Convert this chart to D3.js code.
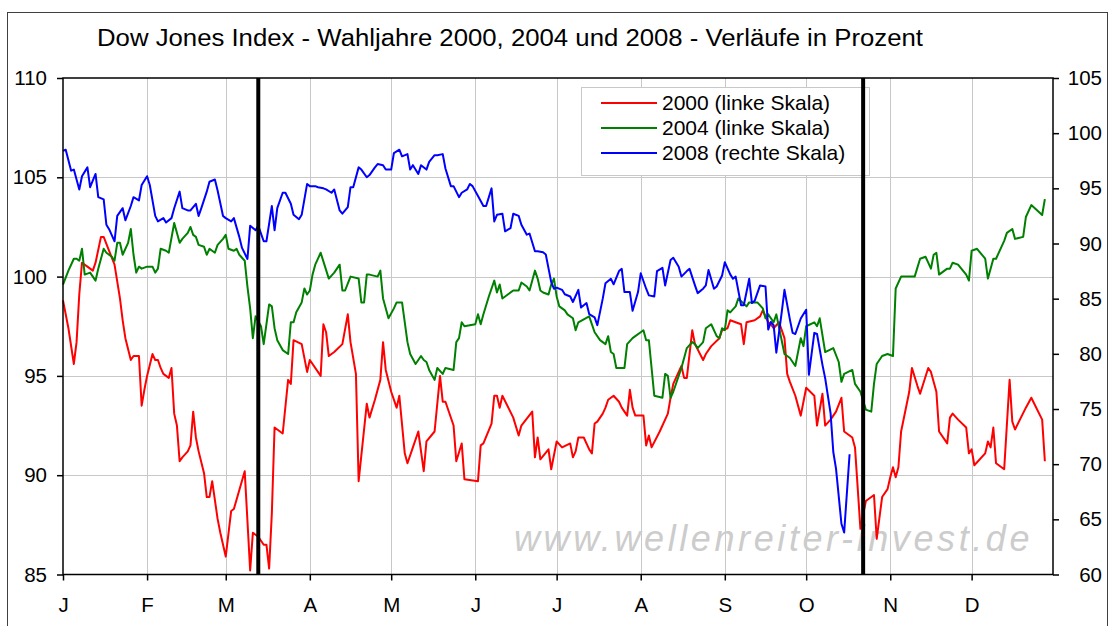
<!DOCTYPE html>
<html>
<head>
<meta charset="utf-8">
<script src="https://cdn.jsdelivr.net/npm/d3@7"></script>
<style>
  body { margin: 0; background: #fff; }
  svg { display: block; font-family: "Liberation Sans", Arial, sans-serif; }
</style>
</head>
<body>
<svg id="chart" width="1109" height="626"></svg>
<script>
// day of year (0 = 1 Jan) and index in percent
var days2000 = [0,2,4,5,6,7,9,11,12,14,
  15,17,19,21,22,23,25,26,28,29,
  30,31,33,34,35,36,37,39,40,41,
  42,43,44,46,47,48,49,50,52,53,
  54,55,57,58,60,62,63,67,69,70,
  72,74,75,76,77,78,81,83,84,85,
  88,90,91,95,96,97,98,100,103,105,
  106,108,109,112,113,115,117,118,119,121,
  123,124,126,127,129,131,133,134,137,139,
  140,141,144,145,147,148,153,154,155,158,
  159,160,161,162,166,168,169,173,174,175,
  176,179,180,182,184,187,188,189,190,192,
  194,195,196,197,199,200,201,203,205,206,
  208,209,210,211,214,215,216,217,220,223,
  224,225,228,229,230,232,233,236,237,239,
  242,243,245,246,250,251,252,255,257,258,
  260,261,262,264,266,267,268,270,272,274,
  277,278,280,281,283,285,287,288,290,291,
  292,294,296,299,300,302,304,305,306,307,
  308,309,312,313,315,316,319,320,322,323,
  326,327,328,330,333,334,335,336,340,341,
  342,343,344,347,349,350,351,355,357,361,
  362];
var vals2000 = [98.8,97.4,95.6,96.7,99.1,100.7,100.5,100.3,100.7,102.0,
  102.0,101.3,100.6,98.9,97.8,96.9,95.8,96.0,96.0,93.5,
  94.3,95.0,96.1,95.8,95.8,95.4,95.1,94.9,95.4,93.1,
  92.5,90.7,90.9,91.2,91.5,93.2,91.9,91.2,90.1,88.9,
  88.9,89.7,87.8,87.1,85.9,88.2,88.3,90.2,85.2,87.1,
  86.9,86.5,86.5,85.3,88.1,92.4,92.1,94.8,94.6,96.8,
  96.6,95.2,95.8,95.0,97.6,97.2,96.0,96.2,96.6,98.1,
  96.7,95.1,89.7,93.6,92.9,93.8,94.8,96.7,95.3,94.2,
  93.4,94.0,91.1,90.6,91.4,92.2,90.2,91.7,92.2,95.0,
  93.7,93.7,92.5,90.7,91.6,89.8,89.7,91.5,91.6,92.6,
  94.0,94.0,93.4,94.0,92.9,92.0,92.5,93.2,90.9,91.9,
  90.8,91.3,90.3,91.7,91.4,91.6,90.9,91.2,91.9,91.9,
  91.3,91.1,92.6,92.7,93.1,93.4,93.8,94.0,93.7,93.4,
  93.0,94.3,93.4,93.0,93.0,91.5,92.0,91.4,92.2,93.1,
  93.9,94.6,95.5,94.9,94.9,97.3,96.6,95.8,96.1,96.5,
  96.9,97.3,97.4,97.8,97.6,96.6,97.7,97.8,98.0,98.3,
  97.7,97.6,97.4,97.7,96.9,95.1,94.7,94.0,93.0,94.4,
  94.0,92.5,94.1,92.5,92.8,93.2,93.9,92.2,92.0,91.9,
  91.4,87.3,88.7,89.0,86.8,88.9,89.3,89.9,90.4,89.9,
  90.4,92.2,94.2,95.4,94.5,94.1,95.4,95.2,94.2,92.2,
  91.6,92.9,93.1,92.8,92.4,91.1,91.3,90.5,91.1,91.7,
  91.4,92.4,90.6,90.3,94.8,92.7,92.3,93.4,93.9,92.8,
  90.7];

var days2004 = [0,2,4,5,6,7,8,10,12,13,
  15,16,18,19,20,21,22,24,25,26,
  27,28,29,31,33,34,35,36,38,39,
  41,43,44,46,47,48,49,50,52,53,
  54,56,57,59,60,61,63,64,65,67,
  68,69,70,71,73,74,76,77,78,79,
  81,83,84,85,86,88,89,90,91,92,
  93,95,98,100,102,103,104,106,109,110,
  111,112,113,116,117,118,120,122,123,125,
  127,128,130,132,133,134,135,137,138,140,
  141,144,145,146,147,148,152,153,154,155,
  157,159,160,161,162,164,166,168,169,171,
  172,174,175,176,177,179,180,181,182,183,
  185,186,188,189,190,194,196,198,200,201,
  202,203,204,207,208,210,211,213,214,215,
  216,218,221,222,223,224,225,228,230,232,
  233,234,236,237,239,241,242,243,244,245,
  246,248,249,252,253,256,258,259,260,262,
  263,266,268,270,272,273,274,277,278,279,
  281,284,286,287,288,291,292,294,296,298,
  299,300,302,304,306,307,309,314,316,318,
  319,320,321,322,323,326,327,328,330,333,
  334,335,337,340,341,342,343,344,347,348,
  350,351,354,355,357,361,362];
var vals2004 = [99.6,100.3,100.9,100.9,100.8,101.4,100.1,100.2,99.8,100.4,
  101.4,101.2,101.0,100.8,101.7,101.7,101.1,101.7,102.4,101.1,
  100.2,100.5,100.4,100.5,100.5,100.2,100.4,101.4,101.3,101.2,
  102.7,101.7,101.9,102.2,102.5,102.1,102.0,101.6,101.5,101.1,
  101.4,101.2,101.6,101.9,102.1,101.4,101.3,101.4,101.1,100.8,
  99.5,98.4,96.9,98.0,97.5,96.6,98.6,98.5,97.4,96.8,
  96.3,96.1,97.7,97.7,98.2,98.7,99.4,99.1,99.3,100.1,
  100.6,101.2,99.9,100.2,100.6,99.3,99.3,100.0,99.9,98.7,
  98.7,100.1,100.1,100.0,100.3,98.9,97.9,98.4,98.7,98.7,
  96.7,96.1,95.6,96.0,95.8,95.7,95.3,94.8,95.4,95.1,
  95.4,95.3,96.7,96.9,97.7,97.5,97.6,98.1,97.6,98.1,
  99.0,99.8,99.2,99.6,98.9,99.1,99.3,99.3,99.7,99.5,
  99.3,100.3,99.9,99.3,99.2,99.1,99.6,99.9,99.0,98.5,
  98.3,98.1,97.9,97.3,97.7,98.0,97.2,96.8,96.6,97.0,
  96.2,96.1,95.4,95.4,96.6,96.9,97.0,97.2,97.3,96.8,
  96.8,94.0,93.9,95.1,95.0,93.9,94.2,95.4,96.4,96.7,
  96.6,96.4,96.7,97.4,97.6,97.0,96.9,97.4,97.3,98.3,
  98.2,98.5,98.9,98.5,98.7,98.7,98.4,97.9,98.1,97.7,
  98.1,96.1,95.9,95.5,96.9,96.5,97.5,97.7,97.5,97.9,
  96.2,96.4,95.7,94.7,95.1,95.3,94.6,94.2,93.3,93.2,
  94.6,95.6,96.0,96.1,96.0,99.4,100.0,100.0,100.9,101.0,
  100.7,100.4,101.1,101.2,100.1,100.4,100.4,100.7,100.6,100.1,
  99.8,101.3,101.4,100.9,99.9,100.4,100.9,100.9,101.8,102.2,
  102.4,101.9,102.0,103.0,103.6,103.1,103.9];

var days2008 = [0,1,3,4,6,7,9,10,12,13,
  15,16,17,19,20,22,23,25,26,28,
  29,31,32,34,35,37,38,40,41,43,
  44,46,47,49,50,51,53,54,56,57,
  59,60,62,63,65,66,68,69,71,72,
  74,75,77,78,79,81,82,84,85,87,
  88,90,91,93,94,96,97,99,100,102,
  103,105,106,107,109,110,112,113,115,116,
  118,119,121,122,124,125,127,128,129,131,
  132,134,135,137,138,140,141,143,144,146,
  147,149,150,151,153,155,156,158,159,160,
  162,163,165,166,168,169,171,172,174,175,
  177,178,180,181,182,184,185,187,188,190,
  191,193,194,196,197,199,200,202,203,205,
  206,207,209,210,212,213,215,216,218,219,
  221,222,224,225,227,228,230,231,233,234,
  236,237,238,240,241,243,244,246,247,248,
  250,251,253,254,255,257,259,260,261,262,
  263,265,266,268,269,270,272,274,275,277,
  278,280,281,283,284,285,287,288,290];
var vals2008 = [98.4,98.5,96.6,96.7,94.9,96.1,96.9,95.1,96.3,94.2,
  94.0,91.7,91.3,90.2,92.5,93.2,92.1,93.4,94.2,93.9,
  95.3,96.1,95.3,92.5,92.0,92.3,91.9,92.3,93.2,94.7,
  93.2,93.0,93.0,93.6,92.5,93.2,94.7,95.6,95.8,94.8,
  92.5,92.3,92.0,92.3,90.6,89.6,88.6,91.6,91.2,91.6,
  90.2,90.2,93.4,91.2,93.2,94.6,94.6,93.6,92.6,92.2,
  92.6,95.4,95.2,95.2,95.1,95.0,94.9,94.6,94.9,93.0,
  92.7,93.3,95.1,95.1,96.9,96.7,96.0,96.2,96.9,97.2,
  97.1,96.7,96.7,98.2,98.5,97.9,98.1,96.7,97.1,96.3,
  97.1,96.7,97.4,98.0,98.0,98.1,96.8,95.2,95.2,94.2,
  94.6,94.9,95.4,95.2,94.3,93.4,93.4,95.0,92.0,92.6,
  92.7,91.1,91.4,92.7,92.5,91.7,90.8,90.9,89.3,89.3,
  89.2,89.0,86.5,85.9,86.0,85.8,85.4,85.2,84.7,85.8,
  84.2,84.6,83.6,83.3,82.6,85.0,86.4,86.8,86.3,87.5,
  87.7,85.6,85.6,83.9,85.6,87.3,85.9,85.3,85.2,87.5,
  87.8,86.2,88.5,88.7,87.9,87.0,87.5,87.7,86.2,85.5,
  85.9,86.2,87.6,85.9,86.1,87.1,88.3,87.2,86.8,87.0,
  84.4,84.4,86.8,84.6,84.8,86.2,86.1,82.2,82.9,82.6,
  80.1,83.8,85.8,83.1,81.9,81.8,83.2,84.0,78.1,81.9,
  81.8,79.0,77.8,74.6,71.1,69.6,64.6,63.8,70.9];

var monthLabels = ["J","F","M","A","M","J","J","A","S","O","N","D"];
var leftTicks = [85,90,95,100,105,110];
var rightTicks = [60,65,70,75,80,85,90,95,100,105];
var markerDays = [72, 295];
var seriesNames = ["2000 (linke Skala)", "2004 (linke Skala)", "2008 (rechte Skala)"];
var seriesColors = ["#ff0000", "#008000", "#0000ff"];

var svg = d3.select('#chart');
var plotL = 63, plotR = 1053, plotT = 78, plotB = 574.5;

var base = new Date(2000, 0, 1);
function toDate(d) { return d3.timeDay.offset(base, d); }

var x = d3.scaleTime()
  .domain([base, new Date(2000, 11, 31)])
  .range([plotL, plotR]);
var yL = d3.scaleLinear().domain([85, 110]).range([plotB, plotT]);
var yR = d3.scaleLinear().domain([60, 105]).range([plotB, plotT]);
var months = d3.timeMonth.range(base, new Date(2001, 0, 1));

// outer frame
svg.append('rect')
  .attr('x', 7.5).attr('y', 12.5)
  .attr('width', 1100).attr('height', 640)
  .attr('fill', '#fff').attr('stroke', '#404040').attr('stroke-width', 1);

// title
svg.append('text')
  .attr('x', 97).attr('y', 46)
  .attr('font-size', 23.5)
  .attr('textLength', 826).attr('lengthAdjust', 'spacingAndGlyphs')
  .text('Dow Jones Index - Wahljahre 2000, 2004 und 2008 - Verläufe in Prozent');

// grid
var grid = svg.append('g').attr('stroke', '#c8c8c8').attr('stroke-width', 1);
grid.selectAll('.hg')
  .data(leftTicks.filter(function(v) { return v > 85 && v < 110; }))
  .enter().append('line')
  .attr('x1', plotL).attr('x2', plotR)
  .attr('y1', function(v) { return Math.round(yL(v)) + 0.5; })
  .attr('y2', function(v) { return Math.round(yL(v)) + 0.5; });
grid.selectAll('.vg')
  .data(months.slice(1))
  .enter().append('line')
  .attr('y1', plotT).attr('y2', plotB)
  .attr('x1', function(d) { return Math.round(x(d)) + 0.5; })
  .attr('x2', function(d) { return Math.round(x(d)) + 0.5; });

// watermark
svg.append('text')
  .attr('x', 514).attr('y', 551)
  .attr('font-size', 36).attr('font-style', 'italic')
  .attr('letter-spacing', 3.6)
  .attr('fill', '#cccccc')
  .text('www.wellenreiter-invest.de');

// series
var lineLeft = d3.line()
  .x(function(d) { return x(toDate(d[0])); })
  .y(function(d) { return yL(d[1]); });
var lineRight = d3.line()
  .x(function(d) { return x(toDate(d[0])); })
  .y(function(d) { return yR(d[1]); });

var series = [
  { data: d3.zip(days2000, vals2000), line: lineLeft },
  { data: d3.zip(days2004, vals2004), line: lineLeft },
  { data: d3.zip(days2008, vals2008), line: lineRight }
];
series.forEach(function(s, i) {
  svg.append('path')
    .attr('d', s.line(s.data))
    .attr('fill', 'none')
    .attr('stroke', seriesColors[i])
    .attr('stroke-width', 2)
    .attr('stroke-linejoin', 'round');
});

// axes
var axisL = svg.append('g')
  .attr('transform', 'translate(' + plotL + ',0)')
  .call(d3.axisLeft(yL).tickValues(leftTicks).tickSize(6).tickPadding(10));
var axisR = svg.append('g')
  .attr('transform', 'translate(' + plotR + ',0)')
  .call(d3.axisRight(yR).tickValues(rightTicks).tickSize(6).tickPadding(10));
axisR.selectAll('text').attr('text-anchor', 'end').attr('x', 49);
var axisB = svg.append('g')
  .attr('transform', 'translate(0,' + plotB + ')')
  .call(d3.axisBottom(x).tickValues(months).tickSize(6).tickPadding(17)
    .tickFormat(function(d, i) { return monthLabels[i]; }));
[axisL, axisR, axisB].forEach(function(a) {
  a.selectAll('text').attr('font-size', 20.5).attr('fill', '#000')
    .attr('font-family', '"Liberation Sans", Arial, sans-serif');
  a.selectAll('line').attr('stroke', '#000').attr('stroke-width', 1.5);
  a.select('.domain').remove();
});

// plot border
svg.append('rect')
  .attr('x', plotL).attr('y', plotT)
  .attr('width', plotR - plotL).attr('height', plotB - plotT)
  .attr('fill', 'none').attr('stroke', '#000').attr('stroke-width', 1.5);

// legend
var lg = svg.append('g');
lg.append('rect')
  .attr('x', 581.5).attr('y', 87.5).attr('width', 288).attr('height', 88)
  .attr('fill', '#fff').attr('stroke', '#c8c8c8').attr('stroke-width', 1);
seriesNames.forEach(function(name, i) {
  var yy = 103 + i * 25;
  lg.append('line')
    .attr('x1', 601).attr('x2', 657).attr('y1', yy).attr('y2', yy)
    .attr('stroke', seriesColors[i]).attr('stroke-width', 2);
  lg.append('text')
    .attr('x', 662).attr('y', yy).attr('dy', '0.35em')
    .attr('font-size', 21)
    .text(name);
});

// markers
svg.selectAll('.marker')
  .data(markerDays)
  .enter().append('line')
  .attr('x1', function(d) { return x(toDate(d)); })
  .attr('x2', function(d) { return x(toDate(d)); })
  .attr('y1', plotT).attr('y2', plotB)
  .attr('stroke', '#000').attr('stroke-width', 4);
</script>
</body>
</html>
